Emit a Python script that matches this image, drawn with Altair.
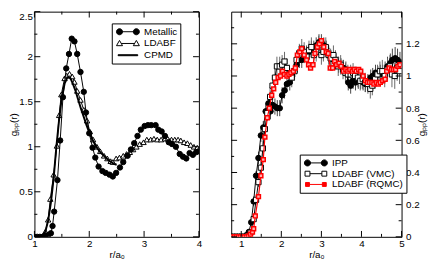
import altair as alt
import pandas as pd

FONT = "Liberation Sans"

# ---------------- left panel data ----------------
met_x = [1.00, 1.05, 1.10, 1.15, 1.20, 1.25, 1.30, 1.33, 1.36, 1.42, 1.47, 1.52, 1.58, 1.63, 1.68,
         1.73, 1.78, 1.84, 1.90, 1.94, 2.00, 2.06, 2.11, 2.17, 2.24, 2.30, 2.37, 2.43, 2.49, 2.56,
         2.62, 2.70, 2.76, 2.82, 2.88, 2.94, 3.01, 3.07, 3.13, 3.21, 3.26, 3.32, 3.38, 3.45, 3.51,
         3.58, 3.65, 3.71, 3.77, 3.83, 3.89, 3.95, 4.00]
met_y = [0.00, 0.00, 0.00, 0.00, 0.01, 0.02, 0.04, 0.12, 0.28, 0.63, 1.07, 1.55, 1.87, 2.03, 2.20,
         2.17, 2.03, 1.83, 1.61, 1.38, 1.15, 0.99, 0.88, 0.78, 0.73, 0.71, 0.69, 0.67, 0.71, 0.77,
         0.83, 0.90, 0.97, 1.04, 1.12, 1.19, 1.23, 1.24, 1.24, 1.24, 1.19, 1.17, 1.12, 1.05, 1.03,
         1.00, 0.92, 0.89, 0.87, 0.93, 0.91, 0.94, 0.95]

lda_x = [1.00, 1.04, 1.08, 1.12, 1.16, 1.20, 1.25, 1.29, 1.35, 1.41, 1.45, 1.49, 1.55, 1.59, 1.64,
         1.69, 1.73, 1.78, 1.84, 1.90, 1.96, 2.01, 2.07, 2.14, 2.20, 2.27, 2.33, 2.39, 2.43, 2.49,
         2.55, 2.62, 2.68, 2.74, 2.80, 2.86, 2.92, 2.99, 3.05, 3.12, 3.18, 3.24, 3.31, 3.38, 3.43,
         3.50, 3.56, 3.62, 3.67, 3.73, 3.79, 3.85, 3.91, 3.97]
lda_y = [0.00, 0.00, 0.00, 0.00, 0.01, 0.06, 0.19, 0.42, 0.69, 1.01, 1.35, 1.58, 1.76, 1.79, 1.81,
         1.78, 1.72, 1.62, 1.52, 1.41, 1.29, 1.17, 1.08, 1.00, 0.95, 0.90, 0.87, 0.84, 0.83, 0.87,
         0.88, 0.90, 0.92, 0.94, 0.97, 1.00, 1.03, 1.05, 1.08, 1.08, 1.09, 1.08, 1.08, 1.09, 1.09,
         1.08, 1.08, 1.08, 1.07, 1.05, 1.04, 1.02, 1.00, 0.99]

cp_x = [1.00, 1.05, 1.10, 1.15, 1.20, 1.25, 1.30, 1.35, 1.40, 1.45, 1.50, 1.55, 1.60, 1.65, 1.70,
        1.75, 1.80, 1.85, 1.90, 1.95, 2.00, 2.05, 2.10, 2.15, 2.20, 2.25, 2.30, 2.35, 2.40, 2.45, 2.50]
cp_y = [0.00, 0.00, 0.00, 0.01, 0.06, 0.18, 0.38, 0.65, 1.00, 1.30, 1.55, 1.70, 1.77, 1.77, 1.70,
        1.62, 1.52, 1.42, 1.33, 1.24, 1.16, 1.09, 1.03, 0.98, 0.94, 0.91, 0.88, 0.85, 0.83, 0.81, 0.80]

# ---------------- right panel data ----------------
ipp_x = [0.78, 0.84, 0.90, 0.96, 1.02, 1.08, 1.13, 1.19, 1.25, 1.31, 1.37, 1.43, 1.49, 1.55, 1.61,
         1.68, 1.73, 1.78, 1.84, 1.90, 1.96, 2.02, 2.08, 2.14, 2.21, 2.27, 2.33, 2.38, 2.45, 2.51,
         2.57, 2.63, 2.69, 2.75, 2.81, 2.87, 2.94, 3.00, 3.06, 3.12, 3.18, 3.24, 3.31, 3.36, 3.43,
         3.49, 3.55, 3.61, 3.67, 3.73, 3.79, 3.85, 3.92, 3.98, 4.04, 4.10, 4.16, 4.23, 4.28, 4.35,
         4.41, 4.47, 4.53, 4.59, 4.65, 4.72, 4.77, 4.84, 4.90, 4.96]
ipp_y = [0.00, 0.00, 0.00, 0.00, 0.00, 0.00, 0.01, 0.03, 0.09, 0.22, 0.38, 0.49, 0.63, 0.68, 0.78,
         0.83, 0.78, 0.82, 0.81, 0.80, 0.80, 0.88, 0.91, 0.95, 0.96, 1.00, 1.03, 1.07, 1.10, 1.10,
         1.13, 1.14, 1.15, 1.17, 1.17, 1.19, 1.21, 1.21, 1.19, 1.17, 1.14, 1.11, 1.10, 1.09, 1.07,
         1.06, 1.05, 1.04, 0.96, 0.94, 0.97, 0.96, 0.97, 0.97, 0.96, 0.95, 0.96, 0.99, 1.00, 1.02,
         1.01, 1.02, 1.01, 1.03, 1.06, 1.08, 1.10, 1.11, 1.10, 1.08]
ipp_e = [0.00, 0.00, 0.00, 0.00, 0.00, 0.00, 0.005, 0.01, 0.02, 0.03, 0.03, 0.04, 0.04, 0.04, 0.05,
         0.05, 0.05, 0.05, 0.05, 0.05, 0.05, 0.05, 0.05, 0.05, 0.05, 0.05, 0.05, 0.05, 0.05, 0.05,
         0.05, 0.05, 0.05, 0.05, 0.05, 0.05, 0.05, 0.05, 0.05, 0.05, 0.05, 0.05, 0.05, 0.05, 0.05,
         0.05, 0.05, 0.05, 0.05, 0.05, 0.05, 0.05, 0.05, 0.05, 0.05, 0.05, 0.05, 0.05, 0.05, 0.05,
         0.05, 0.05, 0.06, 0.06, 0.06, 0.06, 0.07, 0.07, 0.07, 0.07]

vmc_x = [0.78, 0.84, 0.90, 0.96, 1.02, 1.08, 1.15, 1.23, 1.31, 1.37, 1.43, 1.49, 1.54, 1.59, 1.65,
         1.72, 1.78, 1.84, 1.89, 1.96, 2.02, 2.08, 2.14, 2.20, 2.26, 2.33, 2.38, 2.45, 2.51, 2.57,
         2.63, 2.69, 2.75, 2.81, 2.87, 2.93, 3.00, 3.05, 3.11, 3.18, 3.23, 3.30, 3.35, 3.42, 3.48,
         3.54, 3.60, 3.66, 3.73, 3.79, 3.84, 3.91, 3.97, 4.03, 4.09, 4.16, 4.22, 4.27, 4.34, 4.40,
         4.46, 4.52, 4.58, 4.65, 4.71, 4.76, 4.83, 4.89, 4.95]
vmc_y = [0.00, 0.00, 0.00, 0.00, 0.00, 0.00, 0.006, 0.026, 0.11, 0.23, 0.34, 0.43, 0.55, 0.67, 0.77,
         0.87, 0.94, 0.99, 1.06, 1.06, 1.07, 1.09, 1.05, 1.01, 0.99, 1.03, 1.10, 1.14, 1.17, 1.15,
         1.12, 1.16, 1.18, 1.13, 1.15, 1.19, 1.13, 1.15, 1.18, 1.13, 1.11, 1.13, 1.10, 1.06, 1.07,
         1.04, 1.02, 1.01, 1.01, 1.02, 1.00, 0.99, 0.97, 0.98, 0.96, 0.95, 0.92, 0.94, 0.98, 1.01,
         1.03, 1.03, 1.00, 1.04, 1.06, 1.01, 1.00, 1.05, 1.03]
vmc_e = [0.00, 0.00, 0.00, 0.00, 0.00, 0.00, 0.005, 0.01, 0.02, 0.03, 0.03, 0.04, 0.05, 0.05, 0.05,
         0.06, 0.06, 0.06, 0.06, 0.06, 0.06, 0.06, 0.06, 0.06, 0.06, 0.06, 0.06, 0.06, 0.06, 0.06,
         0.06, 0.06, 0.06, 0.06, 0.06, 0.06, 0.06, 0.06, 0.06, 0.06, 0.06, 0.06, 0.06, 0.06, 0.06,
         0.06, 0.06, 0.06, 0.06, 0.06, 0.06, 0.06, 0.06, 0.06, 0.06, 0.06, 0.06, 0.06, 0.06, 0.06,
         0.06, 0.07, 0.07, 0.07, 0.07, 0.08, 0.08, 0.08, 0.08]

rq_x = [0.78, 0.83, 0.88, 0.93, 0.98, 1.03, 1.08, 1.13, 1.18, 1.23, 1.28, 1.31, 1.35, 1.43, 1.49,
        1.55, 1.59, 1.65, 1.70, 1.76, 1.81, 1.86, 1.92, 1.98, 2.03, 2.08, 2.14, 2.19, 2.24, 2.30,
        2.35, 2.40, 2.46, 2.51, 2.57, 2.63, 2.68, 2.73, 2.79, 2.84, 2.90, 2.95, 3.00, 3.06, 3.12,
        3.17, 3.22, 3.28, 3.33, 3.38, 3.44, 3.49, 3.55, 3.61, 3.66, 3.71, 3.77, 3.82, 3.87, 3.93,
        3.98, 4.04, 4.10, 4.15, 4.20, 4.26, 4.31, 4.37, 4.42, 4.47, 4.53, 4.59, 4.63, 4.69, 4.75,
        4.80, 4.85, 4.91, 4.96]
rq_y = [0.00, 0.00, 0.00, 0.00, 0.00, 0.00, 0.00, 0.00, 0.005, 0.016, 0.03, 0.05, 0.13, 0.25, 0.38,
        0.48, 0.62, 0.74, 0.80, 0.88, 0.92, 0.96, 0.99, 1.00, 1.03, 1.01, 1.00, 1.01, 1.02, 1.03,
        1.05, 1.13, 1.15, 1.17, 1.13, 1.10, 1.07, 1.05, 1.07, 1.14, 1.18, 1.20, 1.22, 1.18, 1.15,
        1.14, 1.05, 1.05, 1.09, 1.07, 1.08, 1.06, 1.03, 1.04, 1.03, 1.04, 1.03, 1.04, 1.03, 1.04,
        1.03, 1.00, 0.97, 0.96, 0.96, 0.96, 0.95, 0.96, 0.95, 0.96, 0.97, 0.98, 1.03, 1.05, 1.04,
        1.04, 1.04, 1.06, 1.07]

# ---------------- axes / ticks / legends ----------------
left_names = ["Metallic", "LDABF", "CPMD"]
right_names = ["IPP", "LDABF (VMC)", "LDABF (RQMC)"]

l_xdom = [1, 4]
l_ydom = [0, 2.5]
l_xmaj = [1, 2, 3, 4]
l_xmin = [1.5, 2.5, 3.5]
l_ymaj = [0, 0.5, 1, 1.5, 2, 2.5]
l_ymin = [0.25, 0.75, 1.25, 1.75, 2.25]

r_xdom = [0.75, 5]
r_ydom = [0, 1.4]
r_xmaj = [1, 2, 3, 4, 5]
r_xmin = [1.5, 2.5, 3.5, 4.5]
r_ymaj = [0, 0.2, 0.4, 0.6, 0.8, 1, 1.2]
r_ymin = [0.1, 0.3, 0.5, 0.7, 0.9, 1.1, 1.3]

LW, LH = 168, 230
RW, RH = 174, 230
MAJ, MIN = 6, 3

# legend symbols (line with markers), unit coords scaled by 5 px
P_CIRC = ("M-1.72,0H1.72M-2.34,0A0.62,0.62,0,1,0,-1.1,0A0.62,0.62,0,1,0,-2.34,0Z"
          "M1.1,0A0.62,0.62,0,1,0,2.34,0A0.62,0.62,0,1,0,1.1,0Z")
P_TRI = "M-1.36,0H1.36M-1.72,-0.62L-1.1,0.45L-2.34,0.45ZM1.72,-0.62L2.34,0.45L1.1,0.45Z"
P_LINE = "M-2,-0.1H2V0.1H-2Z"
P_SQO = "M-1.22,0H1.22M-2.22,-0.5H-1.22V0.5H-2.22ZM1.22,-0.5H2.22V0.5H1.22Z"
P_SQR = "M-1.72,0H1.72M-2.12,-0.4H-1.32V0.4H-2.12ZM1.32,-0.4H2.12V0.4H1.32Z"


def df_of(xs, ys, es=None):
    assert len(xs) == len(ys)
    d = pd.DataFrame({"x": xs, "y": ys})
    if es is not None:
        assert len(es) == len(xs)
        d["lo"] = [a - b for a, b in zip(ys, es)]
        d["hi"] = [a + b for a, b in zip(ys, es)]
    return d


def panel(key, xdom, ydom, xmaj, xmin, ymaj, ymin, W, H, yorient, series, errs, leg_names,
          leg_paths, leg_fill, leg_stroke, legx, legy, leg_rowpad):
    xs = alt.Scale(domain=xdom, nice=False, zero=False)
    ys = alt.Scale(domain=ydom, nice=False, zero=False)
    xa = alt.Axis(values=xmaj, format="~g", title="r/a₀", ticks=False, domain=False, grid=False,
                  labelPadding=2, titlePadding=1, labelFlush=False)
    ya_kw = dict(values=ymaj, format="~g", title="gₚₚ(r)", ticks=False, domain=False, grid=False,
                 orient=yorient, labelFlush=False)
    if yorient == "left":
        ya = alt.Axis(labelPadding=2, titlePadding=0,
                      labelBaseline={"condition": {"test": f"datum.value >= {ydom[1]}",
                                                   "value": "top"}, "value": "middle"},
                      **ya_kw)
    else:
        ya = alt.Axis(labelPadding=4, titlePadding=8, titleAngle=270, **ya_kw)
    X = lambda f: alt.X(f, scale=xs, axis=xa, title="r/a₀")
    Y = lambda f: alt.Y(f, scale=ys, axis=ya, title="gₚₚ(r)")

    layers = []
    for d, ekw in errs:
        layers.append(alt.Chart(d).mark_rule(clip=True, **ekw).encode(
            x=X("x:Q"), y=Y("lo:Q"), y2="hi:Q"))
    for d, line_kw, pt_kw in series:
        if line_kw is not None:
            layers.append(alt.Chart(d).mark_line(clip=True, **line_kw).encode(
                x=X("x:Q"), y=Y("y:Q"), order="x:Q"))
        if pt_kw is not None:
            layers.append(alt.Chart(d).mark_point(clip=True, opacity=1, **pt_kw).encode(
                x=X("x:Q"), y=Y("y:Q")))

    # inward ticks on all four sides
    for vals, ln in ((ymaj, MAJ), (ymin, MIN)):
        t = alt.Chart(pd.DataFrame({"v": vals})).mark_rule(color="black", strokeWidth=1)
        layers.append(t.encode(y=Y("v:Q"), x=alt.value(0), x2=alt.value(ln)))
        layers.append(t.encode(y=Y("v:Q"), x=alt.value(W - ln), x2=alt.value(W)))
    for vals, ln in ((xmaj, MAJ), (xmin, MIN)):
        t = alt.Chart(pd.DataFrame({"v": vals})).mark_rule(color="black", strokeWidth=1)
        layers.append(t.encode(x=X("v:Q"), y=alt.value(H - ln), y2=alt.value(H)))
        layers.append(t.encode(x=X("v:Q"), y=alt.value(0), y2=alt.value(ln)))

    # legend (points placed outside domain and clipped)
    leg = alt.Legend(title=None, orient="none", legendX=legx, legendY=legy, strokeColor="black",
                     fillColor="white", padding=3, labelFont=FONT, labelFontSize=10,
                     labelColor="black", symbolSize=100, symbolOffset=8, labelOffset=11,
                     rowPadding=leg_rowpad, symbolStrokeWidth=1, cornerRadius=0)
    f = key + ":N"
    ldf = pd.DataFrame({key: leg_names, "x": [xdom[0] - 5] * 3, "y": [ydom[0] - 5] * 3})
    layers.append(alt.Chart(ldf).mark_point(clip=True, filled=True, size=100, strokeWidth=1,
                                            opacity=1).encode(
        x=X("x:Q"), y=Y("y:Q"),
        shape=alt.Shape(f, scale=alt.Scale(domain=leg_names, range=leg_paths), legend=leg),
        fill=alt.Fill(f, scale=alt.Scale(domain=leg_names, range=leg_fill), legend=leg),
        stroke=alt.Stroke(f, scale=alt.Scale(domain=leg_names, range=leg_stroke), legend=leg),
    ))
    return alt.layer(*layers).properties(width=W, height=H)


left = panel(
    "sl", l_xdom, l_ydom, l_xmaj, l_xmin, l_ymaj, l_ymin, LW, LH, "left",
    series=[
        (df_of(lda_x, lda_y), dict(color="black", strokeWidth=1),
         dict(shape="triangle-up", filled=True, fill="white", stroke="black", strokeWidth=1, size=30)),
        (df_of(cp_x, cp_y), dict(color="black", strokeWidth=2), None),
        (df_of(met_x, met_y), dict(color="black", strokeWidth=1),
         dict(shape="circle", filled=True, fill="black", stroke="black", strokeWidth=1, size=30)),
    ],
    errs=[],
    leg_names=left_names, leg_paths=[P_CIRC, P_TRI, P_LINE],
    leg_fill=["black", "white", "black"], leg_stroke=["black", "black", "black"],
    legx=79, legy=12, leg_rowpad=1,
)

right = panel(
    "sr", r_xdom, r_ydom, r_xmaj, r_xmin, r_ymaj, r_ymin, RW, RH, "right",
    series=[
        (df_of(ipp_x, ipp_y), dict(color="black", strokeWidth=1),
         dict(shape="circle", filled=True, fill="black", stroke="black", strokeWidth=1, size=32)),
        (df_of(vmc_x, vmc_y), dict(color="black", strokeWidth=1),
         dict(shape="square", filled=True, fill="white", stroke="black", strokeWidth=1, size=28)),
        (df_of(rq_x, rq_y), dict(color="#ff0000", strokeWidth=1.2),
         dict(shape="square", filled=True, fill="#ffb0b0", stroke="#ff0000", strokeWidth=1.5, size=16)),
    ],
    errs=[
        (df_of(ipp_x, ipp_y, ipp_e), dict(color="#444444", strokeWidth=1)),
        (df_of(vmc_x, vmc_y, vmc_e), dict(color="#666666", strokeWidth=1)),
    ],
    leg_names=right_names, leg_paths=[P_CIRC, P_SQO, P_SQR],
    leg_fill=["black", "white", "#ff0000"], leg_stroke=["black", "black", "#ff0000"],
    legx=70, legy=146, leg_rowpad=0,
)

chart = alt.hconcat(left, right, spacing=28).properties(
    padding={"left": 0, "top": 0, "right": 0, "bottom": 0}
).resolve_scale(
    shape="independent", fill="independent", stroke="independent"
).resolve_legend(
    shape="independent", fill="independent", stroke="independent"
).configure_view(
    stroke="black", strokeWidth=1
).configure_axis(
    labelFont=FONT, titleFont=FONT, labelFontSize=10, titleFontSize=10, labelColor="black",
    titleColor="black", titleFontWeight="normal"
)

chart.save("out.html", embed_options={"renderer": "svg", "actions": False})
